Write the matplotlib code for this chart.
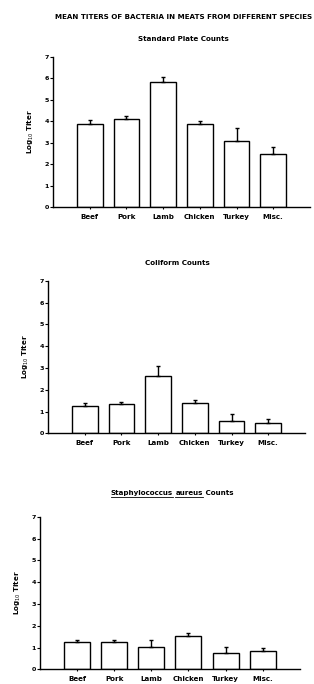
import matplotlib
matplotlib.use("Agg")
import matplotlib.pyplot as plt
from matplotlib.lines import Line2D

categories = ["Beef", "Pork", "Lamb", "Chicken", "Turkey", "Misc."]
categories_staph = ["Beef", "Pork", "Lamb", "Chicken", "Turkey", "Misc."]
spc_means = [3.88, 4.10, 5.83, 3.85, 3.08, 2.48]
spc_err = [0.18, 0.15, 0.23, 0.18, 0.60, 0.34]
coli_means = [1.25, 1.35, 2.65, 1.38, 0.57, 0.49]
coli_err = [0.13, 0.10, 0.44, 0.15, 0.30, 0.15]
staph_means = [1.27, 1.24, 1.04, 1.54, 0.73, 0.84]
staph_err = [0.08, 0.11, 0.31, 0.14, 0.28, 0.15]
yticks = [0, 1, 2, 3, 4, 5, 6, 7]

plt.rcParams['font.family'] = ['DejaVu Sans']
fig = plt.figure(figsize=(3.14, 6.84), dpi=100)
fig.patch.set_facecolor('white')

FS = 5.1

def panel(rect, means, errs, labels):
    ax = fig.add_axes(rect)
    x = list(range(1, len(means) + 1))
    ax.bar(x, means, width=0.7, color='white', edgecolor='black', linewidth=1.0, zorder=2)
    ax.errorbar(x, means, yerr=[[0] * len(errs), errs], fmt='none', ecolor='black',
                elinewidth=1.0, capsize=1.5, capthick=1.0, zorder=3)
    ax.set_xlim(0, 7)
    ax.set_ylim(0, 7)
    ax.set_xticks(x)
    ax.set_xticklabels(labels, fontsize=FS, fontweight='bold')
    ax.set_yticks(yticks)
    ax.set_yticklabels([str(t) for t in yticks], fontsize=FS - 0.5, fontweight='bold')
    for s in ['top', 'right']:
        ax.spines[s].set_visible(False)
    for s in ['left', 'bottom']:
        ax.spines[s].set_linewidth(1.0)
    ax.tick_params(axis='y', length=2, width=0.8, pad=1)
    ax.tick_params(axis='x', length=1.5, width=0.8, pad=3)
    ax.set_ylabel(r'Log$_{10}$ Titer', fontsize=FS, fontweight='bold', labelpad=6)
    return ax

ax1 = panel([0.169, 0.697, 0.818, 0.220], spc_means, spc_err, categories)
ax2 = panel([0.153, 0.3665, 0.818, 0.223], coli_means, coli_err, categories)
ax3 = panel([0.127, 0.0214, 0.828, 0.223], staph_means, staph_err, categories_staph)

fig.text(184 / 314, 1 - 17 / 684, "MEAN TITERS OF BACTERIA IN MEATS FROM DIFFERENT SPECIES",
         ha='center', va='center', fontsize=FS, fontweight='bold')
fig.text(183 / 314, 1 - 39 / 684, "Standard Plate Counts", ha='center', va='center',
         fontsize=FS, fontweight='bold')
fig.text(177 / 314, 1 - 263 / 684, "Coliform Counts", ha='center', va='center',
         fontsize=FS, fontweight='bold')

# Staphylococcus aureus Counts with underlines
parts = [("Staphylococcus", True), (" ", False), ("aureus", True), (" Counts", False)]
fig.canvas.draw()
renderer = fig.canvas.get_renderer()
texts = []
widths = []
for p, u in parts:
    t = fig.text(0, 0, p, fontsize=FS, fontweight='bold', ha='left', va='baseline')
    bb = t.get_window_extent(renderer)
    texts.append(t)
    widths.append(bb.width)
total = sum(widths)
W, H = fig.bbox.width, fig.bbox.height
cx = 172 / 314 * W
ybase = (1 - 495 / 684) * H
xcur = cx - total / 2
for (p, u), t, w in zip(parts, texts, widths):
    t.set_position((xcur / W, ybase / H))
    if u:
        fig.add_artist(Line2D([xcur / W, (xcur + w) / W], [(ybase - 2) / H, (ybase - 2) / H],
                              color='black', linewidth=0.6, transform=fig.transFigure))
    xcur += w

fig.savefig("out.png", dpi=100, facecolor='white')
